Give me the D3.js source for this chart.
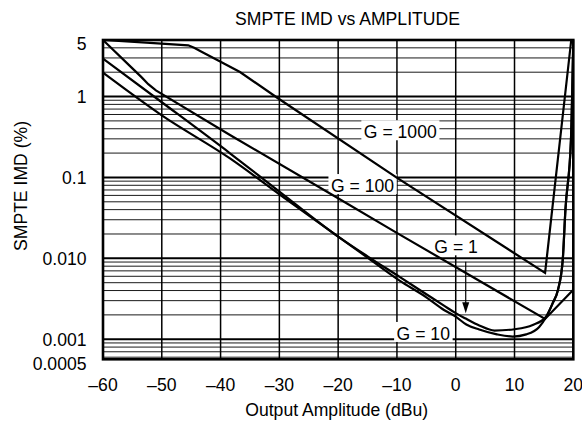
<!DOCTYPE html>
<html><head><meta charset="utf-8">
<script src="https://cdn.jsdelivr.net/npm/d3@7"></script>
<style>
body{margin:0;background:#fff}
svg{display:block}
text{font-family:"Liberation Sans",Arial,Helvetica,sans-serif;font-size:17.6px;fill:#000}
</style>
</head><body>
<svg id="chart" width="582" height="424"></svg>
<script>
// ---- data ----
const xTickValues = [-60, -50, -40, -30, -20, -10, 0, 10, 20];
const xTickLabels = ["–60", "–50", "–40", "–30", "–20", "–10", "0", "10", "20"];
const yTickValues = [5, 1, 0.1, 0.01, 0.001, 0.0005];
const yTickLabels = ["5", "1", "0.1", "0.010", "0.001", "0.0005"];

// G = 1000
const g1000X = [-60, -52, -45.5, -44.5, -43, -40, -36.7, -30.3, -10.1, 15.2, 19.65];
const g1000Y = [5, 4.6, 4.3, 4.0, 3.5, 2.7, 2.01, 0.96, 0.1, 0.0066, 5];
// G = 100
const g100X = [-60, -55, -53.5, -52.3, -51, -38.4, -20.3, -10.1, 15.2, 20];
const g100Y = [5, 2.23, 1.75, 1.42, 1.19, 0.335, 0.057, 0.0208, 0.00178, 0.0041];
// G = 1
const g1X = [-60, -50, -38.4, -30, -20, -15, -9.55, -5, -2, 0, 1.7, 4, 6.6, 10, 13.1, 15.36, 16.5, 17.4, 18.2, 18.66, 19.6, 20];
const g1Y = [2.94, 0.85, 0.199, 0.067, 0.0186, 0.0106, 0.0059, 0.0036, 0.0026, 0.0021, 0.0018, 0.00148, 0.00128, 0.00133, 0.0015, 0.0019, 0.0028, 0.0041, 0.0095, 0.04, 0.29, 5];
// G = 10
const g10X = [-60, -50, -38.4, -30, -20, -15, -9.55, -5, -2, 0, 1.8, 4, 7, 9.7, 12, 14.2, 15.4, 16.5, 17.4, 18.2, 18.66, 19.6, 20];
const g10Y = [1.97, 0.585, 0.172, 0.062, 0.0186, 0.0102, 0.0053, 0.0033, 0.0023, 0.0019, 0.00152, 0.00132, 0.00115, 0.00108, 0.00115, 0.00142, 0.0019, 0.0028, 0.0041, 0.0095, 0.04, 0.29, 5];

const labelText = ["G = 1000", "G = 100", "G = 1", "G = 10"];
const labelX = [-9.43, -15.86, 0.07, -5.52];
const labelY = [0.305, 0.066, 0.01154, 0.00098];

const arrowX = 1.7, arrowFrom = 0.0091, arrowTo = 0.0021;

const titleText = "SMPTE IMD vs AMPLITUDE";
const xTitle = "Output Amplitude (dBu)";
const yTitle = "SMPTE IMD (%)";

// ---- layout ----
const svg = d3.select("#chart");
const pLeft = 103, pRight = 573.3, pTop = 40, pBottom = 359.3;
const yBottom = 0.000565;
const x = d3.scaleLinear().domain([-60, 20]).range([pLeft, pRight]);
const y = d3.scaleLog().domain([yBottom, 5]).range([pBottom, pTop]);

// minor horizontal grid
const minor = [];
[0.0001, 0.001, 0.01, 0.1, 1].forEach(d => {
  for (let k = 2; k <= 9; k++) { const v = k * d; if (v > yBottom && v < 5) minor.push(v); }
});
const decades = [1, 0.1, 0.01, 0.001];
const grid = svg.append("g");
grid.selectAll("line.minor").data(minor).join("line")
  .attr("x1", pLeft).attr("x2", pRight)
  .attr("y1", d => y(d)).attr("y2", d => y(d))
  .attr("stroke", "#1a1a1a").attr("stroke-width", 1);
grid.selectAll("line.vert").data(xTickValues.slice(1, -1)).join("line")
  .attr("x1", d => x(d)).attr("x2", d => x(d))
  .attr("y1", pTop).attr("y2", pBottom)
  .attr("stroke", "#000").attr("stroke-width", 1.5);
grid.selectAll("line.dec").data(decades).join("line")
  .attr("x1", pLeft).attr("x2", pRight)
  .attr("y1", d => y(d)).attr("y2", d => y(d))
  .attr("stroke", "#000").attr("stroke-width", 2);

// frame
svg.append("rect").attr("x", pLeft).attr("y", pTop)
  .attr("width", pRight - pLeft).attr("height", pBottom - pTop)
  .attr("fill", "none").attr("stroke", "#000").attr("stroke-width", 2.6);

// label backgrounds (measure text first)
const labG = svg.append("g");
const labels = labelText.map((t, i) => ({ t, x: x(labelX[i]), y: y(labelY[i]) }));
const tmp = labG.selectAll("text.m").data(labels).join("text")
  .attr("x", d => d.x).attr("y", d => d.y).attr("text-anchor", "middle").text(d => d.t);
const boxes = [];
tmp.each(function (d) { const b = this.getBBox(); boxes.push({ x: b.x - 2.5, w: b.width + 5, y: d.y - 18, h: 20 }); });
tmp.remove();
labG.selectAll("rect").data(boxes).join("rect")
  .attr("x", d => d.x).attr("y", d => d.y).attr("width", d => d.w).attr("height", d => d.h)
  .attr("fill", "#fff");

// curves
svg.append("clipPath").attr("id", "clip").append("rect")
  .attr("x", pLeft).attr("y", pTop - 1).attr("width", pRight - pLeft + 1).attr("height", pBottom - pTop + 2);
const series = [
  { xs: g1000X, ys: g1000Y, curve: d3.curveLinear },
  { xs: g100X, ys: g100Y, curve: d3.curveLinear },
  { xs: g1X, ys: g1Y, curve: d3.curveMonotoneX },
  { xs: g10X, ys: g10Y, curve: d3.curveMonotoneX }
];
const cg = svg.append("g").attr("clip-path", "url(#clip)");
series.forEach(s => {
  const pts = s.xs.map((v, i) => [v, s.ys[i]]);
  const line = d3.line().x(d => x(d[0])).y(d => y(d[1])).curve(s.curve);
  cg.append("path").attr("d", line(pts)).attr("fill", "none")
    .attr("stroke", "#000").attr("stroke-width", 2.2).attr("stroke-linejoin", "miter");
});

// label text
labG.selectAll("text.lab").data(labels).join("text")
  .attr("x", d => d.x).attr("y", d => d.y).attr("text-anchor", "middle").text(d => d.t);

// arrow
const ax = x(arrowX), ay1 = y(arrowFrom), ay2 = y(arrowTo);
svg.append("line").attr("x1", ax).attr("x2", ax).attr("y1", ay1).attr("y2", ay2 - 8)
  .attr("stroke", "#000").attr("stroke-width", 1.2);
svg.append("path").attr("d", `M${ax - 3.5},${ay2 - 11} L${ax + 3.5},${ay2 - 11} L${ax},${ay2} Z`).attr("fill", "#000");

// axes tick labels
svg.append("g").selectAll("text").data(xTickValues).join("text")
  .attr("x", d => x(d)).attr("y", 390.5).attr("text-anchor", "middle")
  .text((d, i) => xTickLabels[i]);
svg.append("g").selectAll("text").data(yTickValues).join("text")
  .attr("x", 86.5).attr("y", d => Math.max(y(d), pTop + 4)).attr("dy", "0.36em").attr("text-anchor", "end")
  .text((d, i) => yTickLabels[i]);

// titles
svg.append("text").attr("x", 347.5).attr("y", 25).attr("text-anchor", "middle").text(titleText);
svg.append("text").attr("x", 336.7).attr("y", 415.5).attr("text-anchor", "middle").text(xTitle);
svg.append("text").attr("transform", "translate(26.5,186) rotate(-90)").attr("text-anchor", "middle").text(yTitle);
</script>
</body></html>
